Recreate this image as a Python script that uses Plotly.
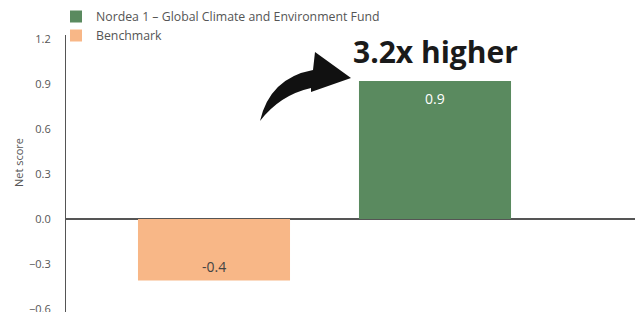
import plotly.graph_objects as go

series_names = ["Benchmark", "Nordea 1 – Global Climate and Environment Fund"]
series_values = [-0.41, 0.92]
series_labels = ["-0.4", "0.9"]
series_colors = ["#F8B787", "#5A8A5F"]
label_colors = ["#444444", "#FFFFFF"]
y_ticks = [-0.6, -0.3, 0.0, 0.3, 0.6, 0.9, 1.2]
callout_text = "3.2x higher"

W, H = 643, 312
OFF = 8  # page body margin
ML, MR, MT, MB = 66 - OFF, 5, 35 - OFF, OFF
# x scale: bar centres at screen px 214 and 435 (221 px per category step)
PX_PER_X = 221.0
x_range = [(ML + OFF - 214) / PX_PER_X, (W - MR + OFF - 214) / PX_PER_X]
y_range = [-0.62, 1.227]

plot_w = W - ML - MR
plot_h = H - MT - MB


def px_to_data(px, py):
    # px, py: screen pixels
    x = x_range[0] + (px - OFF - ML) / plot_w * (x_range[1] - x_range[0])
    y = y_range[1] - (py - OFF - MT) / plot_h * (y_range[1] - y_range[0])
    return x, y


fig = go.Figure()
order = [1, 0]
for i in order:
    fig.add_trace(go.Bar(
        x=[i], y=[series_values[i]], name=series_names[i],
        marker=dict(color=series_colors[i], line=dict(width=0)),
        width=0.688, hoverinfo="skip",
    ))

for i, (v, lab) in enumerate(zip(series_values, series_labels)):
    fig.add_annotation(
        x=i, y=v, text=lab, showarrow=False, xref="x", yref="y",
        yshift=-17 if v > 0 else 14,
        font=dict(family="Open Sans", size=14, color=label_colors[i]),
    )

# callout
fig.add_annotation(
    x=1, y=series_values[1], text=f"<b>{callout_text}</b>", showarrow=False,
    xref="x", yref="y", yanchor="bottom", yshift=7,
    font=dict(family="Open Sans", size=30, color="#1a1a1a"),
)

# curved arrow decoration
def P(px, py):
    x, y = px_to_data(px, py)
    return f"{x:.4f},{y:.4f}"

path = (f"M{P(260,121)} Q{P(270,78)} {P(313,70)} L{P(315,52)} L{P(351,78)} "
        f"L{P(311,92)} L{P(311,88)} Q{P(280,95)} {P(260,121)} Z")
fig.add_shape(type="path", path=path, xref="x", yref="y",
              fillcolor="#111111", line=dict(width=0), layer="above")

fig.add_annotation(
    text="Net score", textangle=-90, showarrow=False,
    xref="paper", yref="paper",
    x=(18 - OFF - ML) / plot_w, y=(H - MB - (163 - OFF)) / plot_h,
    xanchor="center", yanchor="middle",
    font=dict(family="Open Sans", size=11, color="#555555"),
)

fig.update_layout(
    width=W, height=H,
    margin=dict(l=ML, r=MR, t=MT, b=MB, autoexpand=False),
    paper_bgcolor="white", plot_bgcolor="white",
    barmode="overlay",
    showlegend=True,
    legend=dict(
        xref="paper", yref="paper", x=-10 / plot_w, y=1 + 33 / plot_h,
        xanchor="left", yanchor="top", orientation="v",
        font=dict(family="Open Sans", size=12.3, color="#555555"),
        bgcolor="rgba(0,0,0,0)", itemclick=False, tracegroupgap=0,
    ),
    xaxis=dict(range=x_range, showticklabels=False, showgrid=False,
               zeroline=False, showline=False, ticks=""),
    yaxis=dict(range=y_range, tickvals=y_ticks, tickformat=".1f",
               showgrid=False, zeroline=True, zerolinecolor="#555555",
               zerolinewidth=1.5, showline=True, linecolor="#555555",
               linewidth=1, ticks="", ticklabelstandoff=12,
               tickfont=dict(family="Open Sans", size=11, color="#555555")),
    font=dict(family="Open Sans"),
)

fig.write_html("out.html")
